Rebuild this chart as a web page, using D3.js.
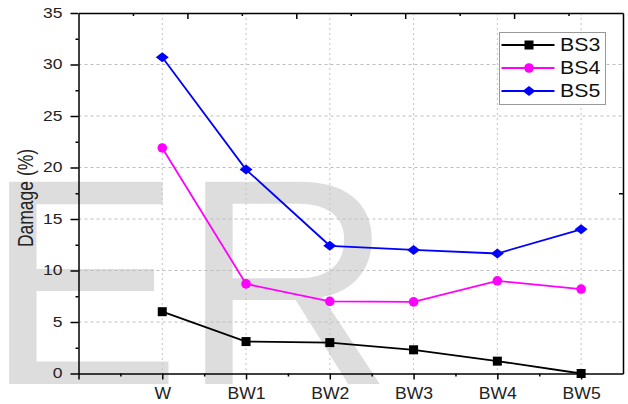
<!DOCTYPE html>
<html>
<head>
<meta charset="utf-8">
<script src="https://cdn.jsdelivr.net/npm/d3@7"></script>
<style>
  body { margin: 0; background: #fff; }
  svg { display: block; font-family: "Liberation Sans", Arial, sans-serif; }
</style>
</head>
<body>
<div id="chart"></div>
<script>
// data
var categories = ["W", "BW1", "BW2", "BW3", "BW4", "BW5"];
var seriesNames = ["BS3", "BS4", "BS5"];
var bs3 = [6.0, 3.1, 3.0, 2.3, 1.2, 0.0];
var bs4 = [21.9, 8.7, 7.0, 6.95, 9.0, 8.2];
var bs5 = [30.7, 19.8, 12.4, 12.0, 11.65, 14.0];
var yTicks = [0, 5, 10, 15, 20, 25, 30, 35];

var width = 628, height = 404;
// note: "top" is taken by window.top, so plot edges get their own names
var pLeft = 78.5, pRight = 623, pTop = 13, pBottom = 373.5;
var stretch = 1.22; // the source picture is a bit wider than tall, text looks wide

var svg = d3.select("#chart").append("svg")
  .attr("width", width)
  .attr("height", height);

var x = d3.scaleLinear().domain([-1, 5.5]).range([pLeft, pRight]);
var y = d3.scaleLinear().domain([0, 35]).range([pBottom, pTop]);
var xTop = d3.scaleLinear().domain([0, 10]).range([pLeft, pRight]); // top axis is not tied to categories

// watermark, sits behind everything
svg.append("text")
  .attr("x", -15)
  .attr("y", 384)
  .attr("font-size", "294px")
  .attr("fill", "#dddddd")
  .text("ER");

// grid
svg.append("g").selectAll("line")
  .data(yTicks.filter(d => d > 0 && d < 35))
  .enter().append("line")
  .attr("x1", pLeft).attr("x2", pRight)
  .attr("y1", d => y(d)).attr("y2", d => y(d))
  .attr("stroke", "#bdbdbd")
  .attr("stroke-width", 1)
  .attr("stroke-dasharray", "3,3");

svg.append("g").selectAll("line")
  .data(categories)
  .enter().append("line")
  .attr("x1", (d, i) => x(i)).attr("x2", (d, i) => x(i))
  .attr("y1", pTop).attr("y2", pBottom)
  .attr("stroke", "#c4c4c4")
  .attr("stroke-width", 1)
  .attr("stroke-dasharray", "2,3");

// axes
var axisColor = "#222";

// left axis, ticks outward
var gLeft = svg.append("g").attr("transform", "translate(" + pLeft + ",0)");
gLeft.call(d3.axisLeft(y).tickValues(yTicks).tickSize(8).tickPadding(8).tickSizeOuter(0))
  .call(g => g.select(".domain").attr("stroke-width", 1.5))
  .call(g => g.selectAll(".tick line").attr("stroke-width", 1.5))
  .call(g => g.selectAll("text")
    .attr("font-size", "14px").attr("fill", axisColor)
    .attr("font-family", "Liberation Sans, Arial, sans-serif")
    .attr("x", -16 / 1.25)
    .attr("transform", "scale(1.25,1)"));
gLeft.append("g")
  .call(d3.axisLeft(y).tickValues(d3.range(2.5, 35, 5)).tickSize(3).tickFormat("").tickSizeOuter(0))
  .call(g => g.select(".domain").remove())
  .call(g => g.selectAll(".tick line").attr("stroke-width", 1.5));

// bottom axis, ticks outward
var gBottom = svg.append("g").attr("transform", "translate(0," + pBottom + ")");
gBottom.call(d3.axisBottom(x).tickValues(d3.range(-1, 6)).tickSize(6).tickPadding(8).tickSizeOuter(0)
    .tickFormat(d => d >= 0 ? categories[d] : ""))
  .call(g => g.select(".domain").attr("stroke-width", 1.5))
  .call(g => g.selectAll(".tick line").attr("stroke-width", 1.5))
  .call(g => g.selectAll("text")
    .attr("font-size", "16px").attr("fill", axisColor)
    .attr("font-family", "Liberation Sans, Arial, sans-serif")
    .attr("transform", "scale(1.1,1)"));
gBottom.append("g")
  .call(d3.axisBottom(x).tickValues(d3.range(-0.5, 5, 1)).tickSize(3).tickFormat("").tickSizeOuter(0))
  .call(g => g.select(".domain").remove())
  .call(g => g.selectAll(".tick line").attr("stroke-width", 1.5));

// top axis, ticks inward
var gTop = svg.append("g").attr("transform", "translate(0," + pTop + ")");
gTop.call(d3.axisBottom(xTop).tickValues([2, 4, 6, 8]).tickSize(6).tickFormat("").tickSizeOuter(0))
  .call(g => g.select(".domain").attr("stroke-width", 1.5))
  .call(g => g.selectAll(".tick line").attr("stroke-width", 1.5));
gTop.append("g")
  .call(d3.axisBottom(xTop).tickValues([1, 3, 5, 7, 9]).tickSize(3).tickFormat("").tickSizeOuter(0))
  .call(g => g.select(".domain").remove())
  .call(g => g.selectAll(".tick line").attr("stroke-width", 1.5));

// right axis, one tick in the middle
var yRight = d3.scaleLinear().domain([0, 2]).range([pBottom, pTop]);
svg.append("g").attr("transform", "translate(" + pRight + ",0)")
  .call(d3.axisLeft(yRight).tickValues([1]).tickSize(4).tickFormat("").tickSizeOuter(0))
  .call(g => g.select(".domain").attr("stroke-width", 1.5))
  .call(g => g.selectAll(".tick line").attr("stroke-width", 1.5));

// y title
svg.append("text")
  .attr("transform", "translate(33,198) rotate(-90) scale(1," + stretch + ")")
  .attr("text-anchor", "middle")
  .attr("font-size", "17.5px")
  .attr("fill", axisColor)
  .text("Damage (%)");

// series
var series = [
  { name: seriesNames[0], values: bs3, color: "#000000", shape: "square" },
  { name: seriesNames[1], values: bs4, color: "#ff00ff", shape: "circle" },
  { name: seriesNames[2], values: bs5, color: "#0000ff", shape: "diamond" }
];

function drawMarker(g, shape, color) {
  if (shape == "square") {
    g.append("rect").attr("x", -4.5).attr("y", -4.5).attr("width", 9).attr("height", 9).attr("fill", color);
  } else if (shape == "circle") {
    g.append("circle").attr("r", 4.8).attr("fill", color);
  } else {
    g.append("path").attr("d", "M0,-5L6.5,0L0,5L-6.5,0Z").attr("fill", color);
  }
}

var line = d3.line()
  .x((d, i) => x(i))
  .y(d => y(d));

series.forEach(function(s) {
  svg.append("path")
    .datum(s.values)
    .attr("d", line)
    .attr("fill", "none")
    .attr("stroke", s.color)
    .attr("stroke-width", 1.8);
  svg.append("g").selectAll("g")
    .data(s.values)
    .enter().append("g")
    .attr("transform", (d, i) => "translate(" + x(i) + "," + y(d) + ")")
    .each(function() { drawMarker(d3.select(this), s.shape, s.color); });
});

// legend
var legend = svg.append("g").attr("transform", "translate(499.5,32.5)");
legend.append("rect")
  .attr("width", 106).attr("height", 72)
  .attr("fill", "#fff")
  .attr("stroke", "#999")
  .attr("stroke-width", 1);
series.forEach(function(s, i) {
  var row = legend.append("g").attr("transform", "translate(0," + (12.5 + i * 23) + ")");
  row.append("line")
    .attr("x1", 2).attr("x2", 55)
    .attr("stroke", s.color).attr("stroke-width", 1.8);
  drawMarker(row.append("g").attr("transform", "translate(29.5,0)"), s.shape, s.color);
  row.append("text")
    .attr("transform", "translate(60.5,6.3) scale(" + stretch + ",1)")
    .attr("font-size", "17.5px")
    .attr("fill", "#111")
    .text(s.name);
});
</script>
</body>
</html>
